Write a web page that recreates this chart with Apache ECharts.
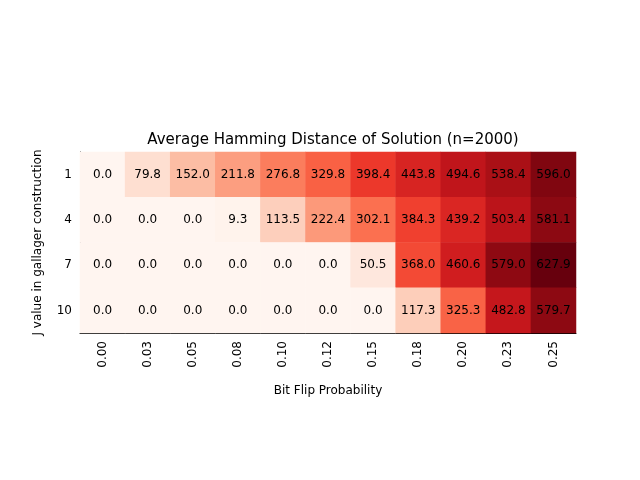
<!DOCTYPE html>
<html>
<head>
<meta charset="utf-8">
<script src="https://cdn.jsdelivr.net/npm/echarts@6/dist/echarts.min.js"></script>
<style>html,body{margin:0;padding:0;background:#fff}#main{width:640px;height:480px}</style>
</head>
<body>
<div id="main"></div>
<script>
var probs = ['0.00','0.03','0.05','0.08','0.10','0.12','0.15','0.18','0.20','0.23','0.25'];
var jValues = ['1','4','7','10'];
var row1 = [0.0, 79.8, 152.0, 211.8, 276.8, 329.8, 398.4, 443.8, 494.6, 538.4, 596.0];
var row4 = [0.0, 0.0, 0.0, 9.3, 113.5, 222.4, 302.1, 384.3, 439.2, 503.4, 581.1];
var row7 = [0.0, 0.0, 0.0, 0.0, 0.0, 0.0, 50.5, 368.0, 460.6, 579.0, 627.9];
var row10 = [0.0, 0.0, 0.0, 0.0, 0.0, 0.0, 0.0, 117.3, 325.3, 482.8, 579.7];

var rows = [row1, row4, row7, row10];
var cells = [];
for (var r = 0; r < rows.length; r++) {
	for (var c = 0; c < probs.length; c++) {
		cells.push([c, r, rows[r][c]]);
	}
}

var chart = echarts.init(document.getElementById('main'));
chart.setOption({
	backgroundColor: '#fff',
	animation: false,
	title: {
		text: 'Average Hamming Distance of Solution (n=2000)',
		left: 328, top: 128, textAlign: 'center',
		textStyle: { fontFamily: 'DejaVu Sans', fontSize: 15, fontWeight: 'normal', color: '#000' }
	},
	grid: { left: 80, right: 64, top: 152, bottom: 147 },
	xAxis: {
		type: 'category', data: probs,
		name: 'Bit Flip Probability', nameLocation: 'middle', nameGap: 52,
		nameTextStyle: { fontFamily: 'DejaVu Sans', fontSize: 12, color: '#000' },
		axisLine: { lineStyle: { color: '#000' } },
		axisTick: { alignWithLabel: true, lineStyle: { color: '#000' } },
		axisLabel: { rotate: 90, fontFamily: 'DejaVu Sans', fontSize: 12, color: '#000' },
		splitLine: { show: false }
	},
	yAxis: {
		type: 'category', data: jValues, inverse: true,
		name: 'J value in gallager construction', nameLocation: 'middle', nameGap: 36,
		nameTextStyle: { fontFamily: 'DejaVu Sans', fontSize: 12, color: '#000' },
		axisLine: { lineStyle: { color: '#000' } },
		axisTick: { alignWithLabel: true, lineStyle: { color: '#000' } },
		axisLabel: { fontFamily: 'DejaVu Sans', fontSize: 12, color: '#000' },
		splitLine: { show: false }
	},
	visualMap: {
		show: false, min: 0, max: 627.9, dimension: 2,
		inRange: { color: ['#fff5f0','#fee0d2','#fcbba1','#fc9272','#fb6a4a','#ef3b2c','#cb181d','#a50f15','#67000d'] }
	},
	series: [{
		type: 'heatmap',
		data: cells,
		label: {
			show: true, color: '#000', fontFamily: 'DejaVu Sans', fontSize: 12,
			formatter: function (p) { return p.value[2].toFixed(1); }
		}
	}]
});
</script>
</body>
</html>
